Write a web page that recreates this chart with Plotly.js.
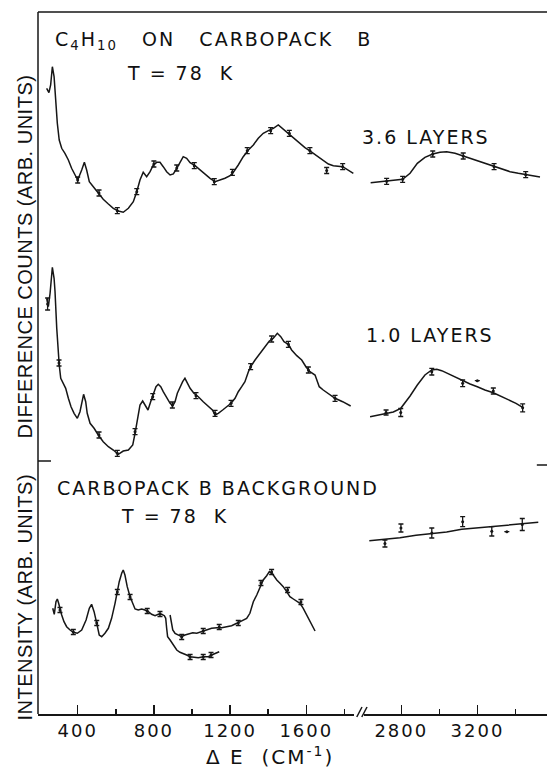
<!DOCTYPE html>
<html>
<head>
<meta charset="utf-8">
<script src="https://cdn.plot.ly/plotly-3.0.1.min.js"></script>
<style>
  html, body { margin: 0; padding: 0; background: #fff; }
  #chart { width: 547px; height: 769px; }
  .annotation-text { letter-spacing: 2px; }
  .annotation[data-index="6"] .annotation-text,
  .annotation[data-index="7"] .annotation-text { letter-spacing: 0.5px; }
  .xtick text, .x2tick text { letter-spacing: 2px; }
</style>
</head>
<body>
<div id="chart"></div>
<script>
// ---- Data (Raman shift in cm^-1, intensity in arbitrary units) ----
// Top panel: 3.6 layers, low-frequency region
const p1LeftX = [237,249,258,263,267,276,284,293,303,316,333,351,368,386,400,421,435,447,461,482,508,534,561,587,613,639,666,692,710,727,744,762,780,797,815,832,849,867,885,902,920,937,954,972,990,1016,1042,1068,1095,1121,1147,1173,1200,1217,1243,1269,1296,1322,1348,1374,1401,1427,1453,1479,1506,1532,1567,1593,1619,1655,1689,1716,1742,1791,1847];
const p1LeftY = [148.7,144.3,152,168.7,170.3,160.3,137,113.7,97,88.7,83.7,77,68.7,62,57,67,74.7,67,55.3,50.3,44.3,37.7,33,28.7,26,24.7,28.7,35.3,45.3,57,64.7,60.3,65.3,72,74.7,74.7,70.3,65.3,62,63,68.7,75.3,80.3,78.7,74.3,71.3,67,63,58.7,55.3,57,58.7,61.3,64.7,72,80.3,87,92,98.7,103.7,106.3,108.7,112,107.7,103.7,98.7,93.7,89.3,86,81,76.3,73,71.3,70.3,63.7];
// Top panel: 3.6 layers, C-H stretch region
const p1RightX = [2639,2723,2807,2846,2884,2924,2965,3003,3038,3082,3125,3161,3204,3248,3287,3327,3371,3414,3453,3493,3528];
const p1RightY = [54.3,55.7,57.7,63.7,73.7,79.7,83,84.7,85.3,83.7,81,78.3,75.7,73,70.3,67.7,65.3,63.7,62.3,61,60];
const p1ErrLX = [400,512,608,710,800,920,1012,1117,1212,1290,1413,1511,1619,1707,1791];
const p1ErrLY = [57,44,26.3,45.3,73,69,71.3,55.3,64.7,86.3,106.3,103.7,86.3,66.5,70.3];
const p1ErrLE = [3,3,3,3,3,3,3,3,3,3,3,3,3,3,3];
const p1ErrRX = [2723,2807,2965,3125,3287,3453];
const p1ErrRY = [55.7,57.7,83,81,70.3,62.3];
const p1ErrRE = [3,3,3,3,3,3];

// Middle panel: 1.0 layers
const p2LeftX = [237,246,255,263,267,276,281,290,298,303,311,324,337,351,365,381,398,412,424,431,442,450,465,486,508,534,561,587,613,639,666,689,701,713,727,741,755,769,783,797,811,823,836,849,867,885,899,911,923,937,951,963,975,990,1010,1033,1059,1086,1107,1121,1138,1161,1182,1205,1226,1243,1261,1278,1296,1308,1331,1357,1383,1406,1427,1448,1466,1483,1506,1523,1550,1576,1598,1619,1646,1668,1689,1716,1751,1791,1833];
const p2LeftY = [162.7,154.3,167.7,192.7,193.7,182.7,169.3,132.7,102.7,96,82.7,77.7,72.7,62.7,54.3,47.7,42.7,49.3,61,66.7,59.3,47.7,37.7,32.7,26,19.3,14.3,11,6.7,10,11,16,27.7,41,56,60,56,51,59.3,67.7,74.3,76.7,74.3,69.3,62.7,57.7,55.3,59.3,67.7,74.3,79.3,82.7,77.7,72.7,67.7,64.3,59.3,54.3,51,46,47.7,51,54.3,57.7,62.7,69.3,74.3,79.3,89.3,94.3,101,107.7,114.3,120,122.7,127.7,124.3,119.3,116.7,111,105.3,101,94.3,89.3,86,74.3,71,67.7,62.7,59.3,55];
const p2RightX = [2636,2679,2720,2758,2797,2819,2846,2884,2924,2960,2986,3012,3047,3082,3122,3161,3199,3239,3283,3322,3362,3402,3437];
const p2RightY = [44.3,45.7,47.7,49,52.7,57.7,65,76,86,91,91.7,90.3,87,83.7,80.3,77,74.3,71,68.3,65,61.7,57.7,53.7];
const p2ErrLX = [242,302,512,608,701,794,897,1021,1121,1205,1308,1418,1506,1611,1751];
const p2ErrLY = [157,98,26,7.7,29.3,64.3,56,65.3,47.7,57.7,94.3,122,116.7,91,62.7];
const p2ErrLE = [6,3,3,3,3,3,3,3,3,3,3,3,3,3,3];
const p2ErrRX = [2720,2797,2960,3122,3199,3283,3437];
const p2ErrRY = [48.5,48.5,89.3,77.7,80.3,70,53.2];
const p2ErrRE = [2.5,4,3.3,3.3,0,3,4];

// Bottom panel: Carbopack B background (two scans + C-H region)
const p3aX = [269,277,286,293,300,307,316,328,342,360,377,398,421,444,461,473,486,500,513,526,543,561,578,596,608,618,631,639,648,660,675,687,701,718,736,753,771,788,806,823,841,855,862,867,872,885,902,920,937,954,972,990,1007,1033,1059,1086,1112,1143];
const p3aY = [105.7,99.7,112.3,115,110.7,104,99,92.3,87.3,84,81.7,80.7,84,94,105.7,109.7,102.3,90.7,79,77.3,80.7,85.7,95.7,110.7,122.3,132.3,140.7,144,139,127.3,117.3,110.7,105,104,105,104,102.3,99.7,98.3,99.7,99.7,98.3,95.7,85.7,77.3,74,69,64,61.7,60,59,57.3,56.7,56.3,57.3,57.3,59.7,62.3];
const p3bX = [885,890,899,911,928,946,963,981,1004,1025,1051,1077,1103,1130,1156,1182,1208,1235,1261,1287,1304,1322,1340,1357,1374,1392,1406,1424,1445,1462,1479,1497,1514,1532,1550,1567,1584,1602,1623,1646];
const p3bY = [99,92.3,84,80.7,79,77.3,79,80,81.3,80.7,82.3,84,85.7,86.3,86.3,87.3,88.3,90.7,93,95.7,100.7,112.3,119,127.3,134,138.3,142.3,139.7,134,130.7,127.3,122.3,117.3,115,113,110.7,105.7,99,90.7,83];
const p3RightX = [2632,2714,2793,2877,2960,3038,3117,3196,3275,3353,3440,3519];
const p3RightY = [173.3,174.7,176.3,178.7,180.7,182,184.7,186,187.3,188.7,190,191.7];
const p3ErrLX = [307,377,500,608,675,765,832,990,1059,1100,946,1059,1143,1243,1362,1418,1502,1572];
const p3ErrLY = [104,82,91,122,117,103,100,57,57,59,77,83,87,91,131,142,124,112];
const p3ErrLE = [2.5,2.5,2.5,2.5,2.5,2.5,2.5,2.5,2.5,2.5,2.5,2.5,2.5,2.5,2.5,2.5,2.5,2.5];
const p3ErrRX = [2714,2798,2960,3122,3275,3354,3435];
const p3ErrRY = [170.5,186,181,192.3,182.7,182.3,189.5];
const p3ErrRE = [3.5,4,5,5,4.7,0,6];

// Axis ticks
const leftMajorTicks = [400, 800, 1200, 1600];
const leftMinorTicks = [600, 1000, 1400, 1800];
const rightMajorTicks = [2800, 3200];
const rightMinorTicks = [3000, 3400];

// ---- Plot ----
const INK = '#161616';
function line(x, y, xa, ya) {
  return { x: x, y: y, xaxis: xa, yaxis: ya, type: 'scatter', mode: 'lines',
           line: { color: INK, width: 1.5 }, hoverinfo: 'skip', showlegend: false };
}
function errs(x, y, e, xa, ya) {
  return { x: x, y: y, xaxis: xa, yaxis: ya, type: 'scatter', mode: 'markers',
           marker: { color: INK, size: 3 },
           error_y: { type: 'data', array: e, visible: true, color: INK, thickness: 1.3, width: 2.5 },
           hoverinfo: 'skip', showlegend: false };
}

const data = [
  line(p1LeftX, p1LeftY, 'x', 'y'),
  line(p1RightX, p1RightY, 'x2', 'y'),
  errs(p1ErrLX, p1ErrLY, p1ErrLE, 'x', 'y'),
  errs(p1ErrRX, p1ErrRY, p1ErrRE, 'x2', 'y'),
  line(p2LeftX, p2LeftY, 'x', 'y2'),
  line(p2RightX, p2RightY, 'x2', 'y2'),
  errs(p2ErrLX, p2ErrLY, p2ErrLE, 'x', 'y2'),
  errs(p2ErrRX, p2ErrRY, p2ErrRE, 'x2', 'y2'),
  line(p3aX, p3aY, 'x', 'y3'),
  line(p3bX, p3bY, 'x', 'y3'),
  line(p3RightX, p3RightY, 'x2', 'y3'),
  errs(p3ErrLX, p3ErrLY, p3ErrLE, 'x', 'y3'),
  errs(p3ErrRX, p3ErrRY, p3ErrRE, 'x2', 'y3')
];

const tickFont = { family: 'DejaVu Sans', size: 18, color: '#111' };
const annFont = { family: 'DejaVu Sans', size: 19, color: '#111' };
const yTitleFont = { family: 'Liberation Sans', size: 20, color: '#111' };
const S = '\u00a0';

const hiddenY = { showline: false, showticklabels: false, showgrid: false, zeroline: false, ticks: '', fixedrange: true };

const layout = {
  width: 547, height: 769,
  margin: { l: 38, r: 0, t: 12, b: 55 },
  paper_bgcolor: '#fff', plot_bgcolor: '#fff',
  showlegend: false,
  xaxis: {
    domain: [0, 0.6208], range: [191.6, 1850.4], anchor: 'y3',
    showline: true, linecolor: INK, linewidth: 1.5,
    showgrid: false, zeroline: false,
    tickmode: 'array', tickvals: leftMajorTicks, ticktext: leftMajorTicks.map(String),
    ticks: 'inside', ticklen: 9, tickwidth: 1.4, tickcolor: INK,
    minor: { tickmode: 'array', tickvals: leftMinorTicks, ticks: 'inside', ticklen: 5, tickwidth: 1.4, tickcolor: INK, showgrid: false },
    tickfont: tickFont
  },
  xaxis2: {
    domain: [0.6405, 1], range: [2604.2, 3564.8], anchor: 'y3',
    showline: true, linecolor: INK, linewidth: 1.5,
    showgrid: false, zeroline: false,
    tickmode: 'array', tickvals: rightMajorTicks, ticktext: rightMajorTicks.map(String),
    ticks: 'inside', ticklen: 9, tickwidth: 1.4, tickcolor: INK,
    minor: { tickmode: 'array', tickvals: rightMinorTicks, ticks: 'inside', ticklen: 5, tickwidth: 1.4, tickcolor: INK, showgrid: false },
    tickfont: tickFont
  },
  yaxis: Object.assign({ domain: [0.6795, 1], range: [0, 225], anchor: 'x' }, hiddenY),
  yaxis2: Object.assign({ domain: [0.3604, 0.6795], range: [0, 224], anchor: 'x' }, hiddenY),
  yaxis3: Object.assign({ domain: [0, 0.3604], range: [0, 253], anchor: 'x' }, hiddenY),
  shapes: [
    // frame: left axis and top border
    { type: 'line', xref: 'paper', yref: 'paper', x0: 0, x1: 0, y0: 0, y1: 1, line: { color: INK, width: 1.5 } },
    { type: 'line', xref: 'paper', yref: 'paper', x0: 0, x1: 1, y0: 1, y1: 1, line: { color: INK, width: 1.5 } },
    // panel divider ticks
    { type: 'line', xref: 'paper', yref: 'paper', x0: 0, x1: 0.0255, y0: 0.3604, y1: 0.3604, line: { color: INK, width: 1.5 } },
    { type: 'line', xref: 'paper', yref: 'paper', x0: 0.98, x1: 1, y0: 0.3547, y1: 0.3547, line: { color: INK, width: 1.5 } },
    // axis break marks //
    { type: 'line', xref: 'paper', yref: 'paper', x0: 0.6263, x1: 0.6365, y0: -0.0043, y1: 0.0100, line: { color: INK, width: 1.5 } },
    { type: 'line', xref: 'paper', yref: 'paper', x0: 0.6361, x1: 0.6464, y0: -0.0043, y1: 0.0100, line: { color: INK, width: 1.5 } }
  ],
  annotations: [
    { xref: 'paper', yref: 'paper', x: 0.0295, y: 0.960, xanchor: 'left', yanchor: 'middle', showarrow: false,
      text: 'C<sub>4</sub>H<sub>10</sub>' + S+S+S + 'ON' + S+S+S + 'CARBOPACK' + S+S+S + 'B', font: annFont },
    { xref: 'paper', yref: 'paper', x: 0.279, y: 0.913, xanchor: 'center', yanchor: 'middle', showarrow: false,
      text: 'T' + S + '=' + S + '78' + S+S + 'K', font: annFont },
    { xref: 'paper', yref: 'paper', x: 0.762, y: 0.822, xanchor: 'center', yanchor: 'middle', showarrow: false,
      text: '3.6' + S + 'LAYERS', font: annFont },
    { xref: 'paper', yref: 'paper', x: 0.770, y: 0.540, xanchor: 'center', yanchor: 'middle', showarrow: false,
      text: '1.0' + S + 'LAYERS', font: annFont },
    { xref: 'paper', yref: 'paper', x: 0.0334, y: 0.322, xanchor: 'left', yanchor: 'middle', showarrow: false,
      text: 'CARBOPACK' + S + 'B' + S + 'BACKGROUND', font: annFont },
    { xref: 'paper', yref: 'paper', x: 0.269, y: 0.282, xanchor: 'center', yanchor: 'middle', showarrow: false,
      text: 'T' + S + '=' + S + '78' + S+S + 'K', font: annFont },
    { xref: 'paper', yref: 'paper', x: -0.0255, y: 0.651, xanchor: 'center', yanchor: 'middle', showarrow: false, textangle: -90,
      text: 'DIFFERENCE' + S + 'COUNTS' + S + '(ARB.' + S + 'UNITS)', font: yTitleFont },
    { xref: 'paper', yref: 'paper', x: -0.0255, y: 0.1667, xanchor: 'center', yanchor: 'middle', showarrow: false, textangle: -90,
      text: 'INTENSITY' + S + '(ARB.' + S + 'UNITS)', font: yTitleFont },
    { xref: 'paper', yref: 'paper', x: 0.456, y: -0.0598, xanchor: 'center', yanchor: 'middle', showarrow: false,
      text: '\u0394' + S + 'E' + S+S + '(CM<sup>-1</sup>)', font: { family: 'DejaVu Sans', size: 20, color: '#111' } }
  ]
};

Plotly.newPlot('chart', data, layout, { staticPlot: true, displayModeBar: false });
</script>
</body>
</html>
